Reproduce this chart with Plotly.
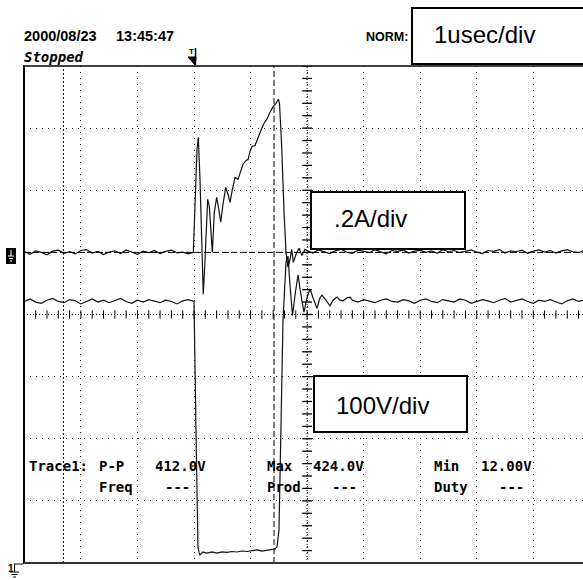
import plotly.graph_objects as go
import numpy as np

W, H = 583, 580

# ---------------- data (time in microseconds, trigger at 0) ----------------
# Trace 1 : voltage (V), 100 V/div
volt_pre_t = [-3.0, -2.9, -2.8, -2.7, -2.6, -2.5, -2.4, -2.3, -2.2, -2.1, -2.0, -1.9, -1.8, -1.7, -1.6,
              -1.5, -1.4, -1.3, -1.2, -1.1, -1.0, -0.9, -0.8, -0.7, -0.6, -0.5, -0.4, -0.3, -0.2, -0.1, 0.0]
volt_pre_v = [421, 425, 420, 418, 423, 426, 421, 419, 424, 422, 417, 421, 425, 420, 423,
              419, 422, 426, 421, 418, 423, 420, 424, 422, 419, 423, 421, 417, 422, 424, 421]
volt_pulse_t = [0.035, 0.07, 0.09, 0.106, 0.159, 0.23, 0.318, 0.407, 0.495, 0.584, 0.672, 0.76, 0.849,
                0.937, 1.026, 1.114, 1.202, 1.291, 1.379, 1.432, 1.468, 1.503, 1.538, 1.574, 1.627,
                1.662, 1.698, 1.742, 1.786, 1.839, 1.892, 1.945, 1.998, 2.051, 2.104, 2.175, 2.228,
                2.263, 2.334, 2.405, 2.458, 2.529, 2.582, 2.635, 2.706, 2.759]
volt_pulse_v = [215, 25, 17, 13, 18, 16, 18, 16, 18, 17, 18.5, 17.7, 19.3,
                18.5, 20, 21, 19, 21, 22, 22.5, 26, 53, 198, 391, 484,
                494, 447, 398, 431, 464, 431, 404, 427, 441, 427, 410, 427,
                431, 423, 414, 423, 428, 423, 422, 427, 428]
volt_post_t = [2.8, 2.9, 3.0, 3.1, 3.2, 3.3, 3.4, 3.5, 3.6, 3.7, 3.8, 3.9, 4.0, 4.1, 4.2, 4.3, 4.4,
               4.5, 4.6, 4.7, 4.8, 4.9, 5.0, 5.1, 5.2, 5.3, 5.4, 5.5, 5.6, 5.7, 5.8, 5.9, 6.0, 6.1,
               6.2, 6.3, 6.4, 6.5, 6.6, 6.7, 6.8, 6.9]
volt_post_v = [423, 420, 424, 421, 419, 423, 425, 421, 420, 424, 422, 418, 423, 425, 421, 419, 424,
               422, 420, 425, 423, 418, 421, 424, 422, 419, 423, 426, 420, 422, 425, 421, 418, 423,
               421, 424, 420, 417, 422, 425, 421, 423]

# Trace 2 : current (A), 0.2 A/div
curr_pre_t = [-3.0, -2.9, -2.8, -2.7, -2.6, -2.5, -2.4, -2.3, -2.2, -2.1, -2.0, -1.9, -1.8, -1.7, -1.6,
              -1.5, -1.4, -1.3, -1.2, -1.1, -1.0, -0.9, -0.8, -0.7, -0.6, -0.5, -0.4, -0.3, -0.2, -0.1]
curr_pre_i = [0.003, -0.006, 0.005, 0.000, -0.008, 0.004, 0.007, -0.003, 0.002, -0.005,
              0.006, 0.009, -0.002, 0.003, -0.007, 0.001, 0.005, -0.004, 0.008, 0.002,
              -0.006, 0.004, -0.001, 0.006, -0.004, 0.003, 0.007, -0.002, 0.001, -0.005]
curr_pulse_t = [-0.012, 0.053, 0.076, 0.106, 0.136, 0.164, 0.195, 0.242, 0.271, 0.324, 0.359, 0.401,
                0.424, 0.472, 0.513, 0.561, 0.601, 0.637, 0.672, 0.725, 0.778, 0.831, 0.866, 0.920,
                0.955, 0.990, 1.026, 1.079, 1.132, 1.197, 1.238, 1.286, 1.344, 1.402, 1.450, 1.491,
                1.512, 1.551, 1.592, 1.627, 1.662, 1.698, 1.728, 1.756, 1.804, 1.857, 1.910, 1.963]
curr_pulse_i = [0.000, 0.332, 0.370, 0.235, 0.000, -0.135, -0.023, 0.171, 0.148, 0.000, 0.129, 0.177,
                0.155, 0.097, 0.155, 0.209, 0.187, 0.161, 0.196, 0.241, 0.235, 0.267, 0.283, 0.296,
                0.299, 0.325, 0.341, 0.344, 0.370, 0.399, 0.415, 0.428, 0.451, 0.470, 0.480, 0.493,
                0.480, 0.341, 0.129, 0.000, -0.048, -0.023, 0.010, -0.032, -0.006, 0.013, -0.010, 0.010]
curr_post_t = [2.0, 2.1, 2.2, 2.3, 2.4, 2.5, 2.6, 2.7, 2.8, 2.9, 3.0, 3.1, 3.2, 3.3, 3.4, 3.5, 3.6,
               3.7, 3.8, 3.9, 4.0, 4.1, 4.2, 4.3, 4.4, 4.5, 4.6, 4.7, 4.8, 4.9, 5.0, 5.1, 5.2, 5.3,
               5.4, 5.5, 5.6, 5.7, 5.8, 5.9, 6.0, 6.1, 6.2, 6.3, 6.4, 6.5, 6.6, 6.7, 6.8, 6.9]
curr_post_i = [0.006, -0.002, 0.008, 0.003, -0.004, 0.005, 0.010, 0.001, -0.003, 0.007,
               0.004, -0.001, 0.009, 0.002, -0.005, 0.006, 0.003, 0.008, -0.002, 0.004,
               0.007, 0.000, 0.005, -0.003, 0.009, 0.002, 0.006, -0.001, 0.004, 0.008,
               0.001, -0.004, 0.006, 0.003, 0.009, -0.002, 0.005, 0.002, 0.007, -0.003,
               0.004, 0.008, 0.001, 0.006, -0.002, 0.005, 0.009, 0.002, -0.001, 0.006]

# measurement readout
meas_row1 = ["Trace1:", "P-P", "412.0V", "Max", "424.0V", "Min", "12.00V"]
meas_row2 = ["Freq", "---", "Prod", "---", "Duty", "---"]
header_date = "2000/08/23"
header_time = "13:45:47"
status_text = "Stopped"
mode_text = "NORM:"
time_scale_label = "1usec/div"
current_scale_label = ".2A/div"
voltage_scale_label = "100V/div"

volt_t = volt_pre_t + volt_pulse_t + volt_post_t
volt_v = volt_pre_v + volt_pulse_v + volt_post_v
curr_t = curr_pre_t + curr_pulse_t + curr_post_t
curr_i = curr_pre_i + curr_pulse_i + curr_post_i

# ---------------- layout geometry ----------------
L, T_, B = 24, 66, 563          # plot box in pixels
US_PX = 56.55                   # pixels per microsecond
X0 = 194                        # pixel of trigger (t=0)


def px(x):
    return x / W


def py(y):
    return 1 - y / H


xr = [(L - X0) / US_PX, (W - X0) / US_PX]

fig = go.Figure()

# graticule tick marks on centre axes
hx = np.arange(-3.0, 7.0001, 0.2)
fig.add_trace(go.Scatter(x=hx, y=[400] * len(hx), mode="markers", hoverinfo="skip",
                         marker=dict(symbol="line-ns", size=6, line=dict(width=1, color="black")),
                         showlegend=False, cliponaxis=True))
vy = np.arange(0, 800.001, 20)
fig.add_trace(go.Scatter(x=[2.0] * len(vy), y=vy, mode="markers", hoverinfo="skip",
                         marker=dict(symbol="line-ew", size=7, line=dict(width=1.3, color="black")),
                         showlegend=False, cliponaxis=True))

fig.add_trace(go.Scatter(x=volt_t, y=volt_v, mode="lines", yaxis="y",
                         line=dict(color="#111", width=1.2), showlegend=False))
fig.add_trace(go.Scatter(x=curr_t, y=curr_i, mode="lines", yaxis="y2",
                         line=dict(color="#111", width=1.2), showlegend=False))

shapes = []
# centre axes (denser dots)
shapes.append(dict(type="line", xref="x", yref="paper", x0=2, x1=2, y0=py(B), y1=py(T_),
                   line=dict(color="black", width=1, dash="1px,2px")))
shapes.append(dict(type="line", xref="paper", yref="y", x0=px(L), x1=1, y0=400, y1=400,
                   line=dict(color="black", width=1, dash="1px,2px")))
# cursors / markers
shapes.append(dict(type="line", xref="x", yref="paper", x0=-2.31, x1=-2.31, y0=py(B), y1=py(T_),
                   line=dict(color="black", width=1, dash="2px,2px")))
shapes.append(dict(type="line", xref="x", yref="paper", x0=1.415, x1=1.415, y0=py(B), y1=py(T_),
                   line=dict(color="black", width=1, dash="6px,3px")))
shapes.append(dict(type="line", xref="paper", yref="y2", x0=px(L), x1=1, y0=0, y1=0,
                   line=dict(color="black", width=1, dash="6px,3px")))
# frame
shapes.append(dict(type="line", xref="paper", yref="paper", x0=px(L), x1=px(L), y0=py(B + 1), y1=py(T_ - 1),
                   line=dict(color="black", width=2)))
shapes.append(dict(type="line", xref="paper", yref="paper", x0=px(L), x1=1, y0=py(T_), y1=py(T_),
                   line=dict(color="black", width=1.5)))
shapes.append(dict(type="line", xref="paper", yref="paper", x0=px(L), x1=1, y0=py(B), y1=py(B),
                   line=dict(color="#333", width=2)))
# label boxes
shapes.append(dict(type="rect", xref="paper", yref="paper", x0=px(412), x1=px(590), y0=py(64), y1=py(8),
                   line=dict(color="black", width=2), fillcolor="white"))
shapes.append(dict(type="rect", xref="paper", yref="paper", x0=px(311), x1=px(465), y0=py(249), y1=py(192),
                   line=dict(color="black", width=2), fillcolor="white"))
shapes.append(dict(type="rect", xref="paper", yref="paper", x0=px(314), x1=px(467), y0=py(432), y1=py(376),
                   line=dict(color="black", width=2), fillcolor="white"))
# trigger marker
shapes.append(dict(type="path", xref="paper", yref="paper",
                   path=f"M {px(188)},{py(57)} L {px(196)},{py(57)} L {px(195)},{py(65)} Z",
                   fillcolor="black", line=dict(color="black", width=1)))
shapes.append(dict(type="line", xref="paper", yref="paper", x0=px(195.5), x1=px(195.5), y0=py(65), y1=py(48),
                   line=dict(color="black", width=1.5)))
# channel-2 ground icon
shapes.append(dict(type="rect", xref="paper", yref="paper", x0=px(6), x1=px(16), y0=py(264), y1=py(248),
                   fillcolor="black", line=dict(color="black", width=0)))
for yy, x0, x1 in [(256, 8, 14), (258.5, 9, 13), (261, 10, 12)]:
    shapes.append(dict(type="line", xref="paper", yref="paper", x0=px(x0), x1=px(x1), y0=py(yy), y1=py(yy),
                       line=dict(color="white", width=1)))
shapes.append(dict(type="line", xref="paper", yref="paper", x0=px(11), x1=px(11), y0=py(250), y1=py(256),
                   line=dict(color="white", width=1)))
# channel-1 ground icon
shapes.append(dict(type="line", xref="paper", yref="paper", x0=px(14), x1=px(23), y0=py(564), y1=py(564),
                   line=dict(color="black", width=1)))
shapes.append(dict(type="line", xref="paper", yref="paper", x0=px(14.5), x1=px(14.5), y0=py(564), y1=py(572),
                   line=dict(color="black", width=1)))
for yy, x0, x1 in [(572, 10, 19), (574.5, 11.5, 17.5), (577, 13, 16)]:
    shapes.append(dict(type="line", xref="paper", yref="paper", x0=px(x0), x1=px(x1), y0=py(yy), y1=py(yy),
                       line=dict(color="black", width=1)))

ann = []


def add_text(text, x, y, size, family, color="black", xanchor="left", bold=False, italic=False):
    t = text
    if bold:
        t = f"<b>{t}</b>"
    if italic:
        t = f"<i>{t}</i>"
    ann.append(dict(text=t, x=px(x), y=py(y), xref="paper", yref="paper", xanchor=xanchor, yanchor="middle",
                    showarrow=False, font=dict(size=size, family=family, color=color)))


add_text(header_date, 22, 36, 14.5, "Liberation Sans", bold=True)
add_text(header_time, 114, 36, 14.5, "Liberation Sans", bold=True)
add_text(status_text, 22, 57, 14, "DejaVu Sans Mono", bold=True, italic=True)
add_text(mode_text, 364, 37, 12.5, "Liberation Sans", bold=True)
add_text("T", 187, 51, 8, "Liberation Sans", bold=True)
add_text("1", 6, 568, 10, "Liberation Sans", bold=True)
add_text(time_scale_label, 432, 34, 24, "Liberation Sans")
add_text(current_scale_label, 332, 219, 24, "Liberation Sans")
add_text(voltage_scale_label, 334, 405, 24, "Liberation Sans")

row1_x = [27, 97, 153, 265, 311, 432, 479]
for txt, xx in zip(meas_row1, row1_x):
    add_text(txt, xx, 466, 14, "DejaVu Sans Mono", bold=True)
row2_x = [97, 163, 265, 330, 432, 497]
for txt, xx in zip(meas_row2, row2_x):
    add_text(txt, xx, 487, 14, "DejaVu Sans Mono", bold=True)

fig.update_layout(
    width=W, height=H, margin=dict(l=0, r=0, t=0, b=0),
    paper_bgcolor="white", plot_bgcolor="white",
    shapes=shapes, annotations=ann, showlegend=False,
    xaxis=dict(domain=[px(L), 1], range=xr, tick0=-3, dtick=1, showgrid=True, gridcolor="black",
               gridwidth=1, griddash="1px,5px", zeroline=False, showticklabels=False, ticks="",
               showline=False, fixedrange=True),
    yaxis=dict(domain=[py(B), py(T_)], range=[0, 800], tick0=0, dtick=100, showgrid=True,
               gridcolor="black", gridwidth=1, griddash="1px,5px", zeroline=False,
               showticklabels=False, ticks="", showline=False, fixedrange=True),
    yaxis2=dict(domain=[py(B), py(T_)], range=[-1.0, 0.6], overlaying="y", showgrid=False,
                zeroline=False, showticklabels=False, ticks="", showline=False, fixedrange=True),
)

fig.write_html("out.html", config={"displayModeBar": False, "staticPlot": True},
               post_script="document.body.style.margin='0';document.body.style.padding='0';"
                           "document.body.style.overflow='hidden';")
